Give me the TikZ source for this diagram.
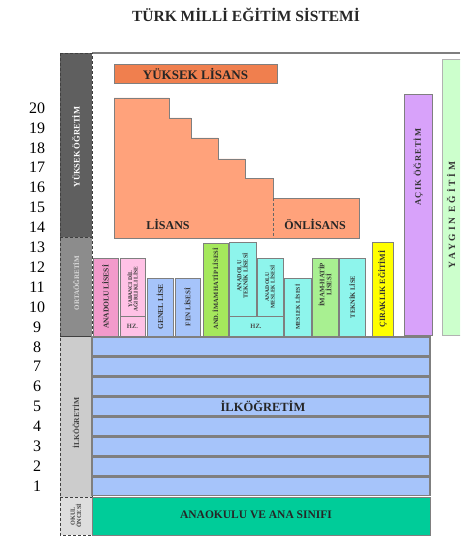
\documentclass[tikz,border=0pt]{standalone}
\usepackage{fontspec}
\setmainfont{Liberation Serif}
\usetikzlibrary{positioning}

\definecolor{ykColor}{HTML}{F07F4E}
\definecolor{lisColor}{HTML}{FFA27B}
\definecolor{alColor}{HTML}{F29ACB}
\definecolor{ydColor}{HTML}{FFC2E6}
\definecolor{glColor}{HTML}{A6C4FA}
\definecolor{aihlColor}{HTML}{A5E85C}
\definecolor{tekColor}{HTML}{8EF5EC}
\definecolor{ihlColor}{HTML}{A8F091}
\definecolor{cirColor}{HTML}{FFFF00}
\definecolor{acikColor}{HTML}{D8A2FA}
\definecolor{yayColor}{HTML}{CCFFCC}
\definecolor{anaColor}{HTML}{00CC99}
\definecolor{sutunKoyu}{HTML}{5F5F5F}
\definecolor{sutunOrta}{HTML}{8C8C8C}
\definecolor{sutunAcik}{HTML}{CCCCCC}
\definecolor{sutunBeyaz}{HTML}{DEDEDE}
\definecolor{cizgi}{HTML}{7F7F7F}

\newcommand{\yazi}[1]{\fontsize{#1}{#1}\selectfont\bfseries}

\tikzset{kutu/.style={draw=cizgi, line width=0.9pt},
    dikyazi/.style={rotate=90, align=center, inner sep=0pt,
        font=\yazi{6.5}, text=black!80},
    sutun/.style={draw=black!75, densely dashed, line width=0.7pt},
    sutunyazi/.style={rotate=90, align=center, inner sep=0pt,
        font=\yazi{7}},
    sinif/.style={font=\fontsize{16}{16}\selectfont, inner sep=0pt},
    bolum/.style={font=\yazi{12}, inner sep=0pt, text=black!85},
    }

\begin{document}
\begin{tikzpicture}[x=1pt, y=-1pt]
\useasboundingbox (0,0) rectangle (460,540);
\clip (0,0) rectangle (460,540);

% baslik
\node[font=\yazi{15.5}, text=black!85] (baslik) at (246,15)
    {TÜRK MİLLİ EĞİTİM SİSTEMİ};
\draw[cizgi, line width=1.5pt] (92,53) -- (460,53);

% sol sutun
\fill[sutunKoyu] (60,53) rectangle (92,237);
\fill[sutunOrta] (60,237) rectangle (92,336);
\fill[sutunAcik] (60,336) rectangle (92,497);
\fill[sutunBeyaz] (60,497) rectangle (92,535);
\draw[sutun] (60,53) rectangle (92,535);
\draw[sutun] (60,237) -- (92,237);
\draw[black!75, line width=0.7pt] (60,336) -- (92,336);
\draw[sutun] (60,497) -- (92,497);
\node[sutunyazi, text=white, font=\yazi{8.5}] (yuksekYazi) at (76,147) {YÜKSEK ÖĞRETİM};
\node[sutunyazi, text=white!85!black] (ortaYazi) at (76,283) {ORTAÖĞRETİM};
\node[sutunyazi, text=black!75, font=\yazi{7.5}] (ilkYazi) at (76,423) {İLKÖĞRETİM};
\node[sutunyazi, text=black!75, font=\yazi{6.2}] (okulYazi) at (76,516) {OKUL\\ÖNCESİ};

% sinif numaralari
\foreach \n in {1,...,20}
    \node[sinif] (sinif\n) at (37,{108+(20-\n)*19.9}) {\n};

% yuksek ogretim
\filldraw[kutu, fill=ykColor] (114,64) rectangle (277,83);
\node[bolum, font=\yazi{13}] (ylisans) at (195.5,74) {YÜKSEK LİSANS};
\filldraw[kutu, fill=lisColor] (114,98) -| (169,118) -| (191,138) -| (218,159)
    -| (245,178) -| (273,198) -| (359,238) -- (114,238) -- cycle;
\draw[densely dashed, black!60, line width=1pt] (273,198) -- (273,238);
\node[bolum] (lisans) at (168,224) {LİSANS};
\node[bolum] (onlisans) at (315,224) {ÖNLİSANS};

% ortaogretim
\filldraw[kutu, fill=alColor] (93,258) rectangle (118,336);
\node[dikyazi, font=\yazi{7.5}] (anadolu) at (105.5,297) {ANADOLU LİSESİ};
\filldraw[kutu, fill=ydColor] (120,258) rectangle (145,316);
\node[dikyazi, font=\yazi{5.6}] (yabanci) at (132.5,289) {YABANCI DİL\\AĞIRLIKLI LİSE};
\filldraw[kutu, fill=ydColor] (120,316) rectangle (145,336);
\node[font=\yazi{6.5}, text=black!70] (hz1) at (132.5,326) {HZ.};
\filldraw[kutu, fill=glColor] (147,278) rectangle (173,336);
\node[dikyazi, font=\yazi{7.5}] (genel) at (160,307) {GENEL LİSE};
\filldraw[kutu, fill=glColor] (175,278) rectangle (200,336);
\node[dikyazi, font=\yazi{7}] (fen) at (187.5,307) {FEN LİSESİ};
\filldraw[kutu, fill=aihlColor] (203,243) rectangle (228,336);
\node[dikyazi, font=\yazi{6.5}] (aihl) at (215.5,289) {AND. İMAM HATİP LİSESİ};
\filldraw[kutu, fill=tekColor] (229,242) rectangle (256,316);
\node[dikyazi, font=\yazi{6.1}] (atl) at (242.5,276) {ANADOLU\\TEKNİK LİSESİ};
\filldraw[kutu, fill=tekColor] (257,258) rectangle (283,316);
\node[dikyazi, font=\yazi{5.6}] (aml) at (270,287) {ANADOLU\\MESLEK LİSESİ};
\filldraw[kutu, fill=tekColor] (229,316) rectangle (283,336);
\node[font=\yazi{6.5}, text=black!70] (hz2) at (256,326) {HZ.};
\filldraw[kutu, fill=tekColor] (284,278) rectangle (311,336);
\node[dikyazi, font=\yazi{5.8}] (meslek) at (297.5,307) {MESLEK LİSESİ};
\filldraw[kutu, fill=ihlColor] (312,258) rectangle (338,336);
\node[dikyazi, font=\yazi{6.8}] (ihl) at (325,285) {İMAM-HATİP\\LİSESİ};
\filldraw[kutu, fill=tekColor] (339,258) rectangle (365,336);
\node[dikyazi, font=\yazi{6.5}] (teknik) at (352,297) {TEKNİK LİSE};
\filldraw[kutu, fill=cirColor] (372,242) rectangle (393,336);
\node[dikyazi, font=\yazi{8}] (cirak) at (382.5,289) {ÇIRAKLIK EĞİTİMİ};

% acik ve yaygin
\filldraw[kutu, fill=acikColor] (404,94) rectangle (432,335);
\node[dikyazi, font=\yazi{8.5}\addfontfeature{LetterSpace=12}] (acik) at (418,167) {AÇIK ÖĞRETİM};
\filldraw[draw=cizgi!60, line width=0.9pt, fill=yayColor] (442,59) rectangle (475,335);
\node[dikyazi, font=\yazi{9.5}\addfontfeature{LetterSpace=30}] (yaygin) at (451,215) {YAYGIN EĞİTİM};

% ilkogretim
\foreach \i in {0,...,7}
    \filldraw[fill=glColor, draw=cizgi, line width=1.2pt] (92,{337+\i*20}) rectangle (430,{355.5+\i*20});
\node[bolum, font=\yazi{12.5}] (ilkogretim) at (263,406) {İLKÖĞRETİM};

% okul oncesi
\filldraw[kutu, fill=anaColor] (92,497) rectangle (430,535);
\node[bolum, font=\yazi{11.5}] (anaokulu) at (256,515) {ANAOKULU VE ANA SINIFI};
\end{tikzpicture}
\end{document}
